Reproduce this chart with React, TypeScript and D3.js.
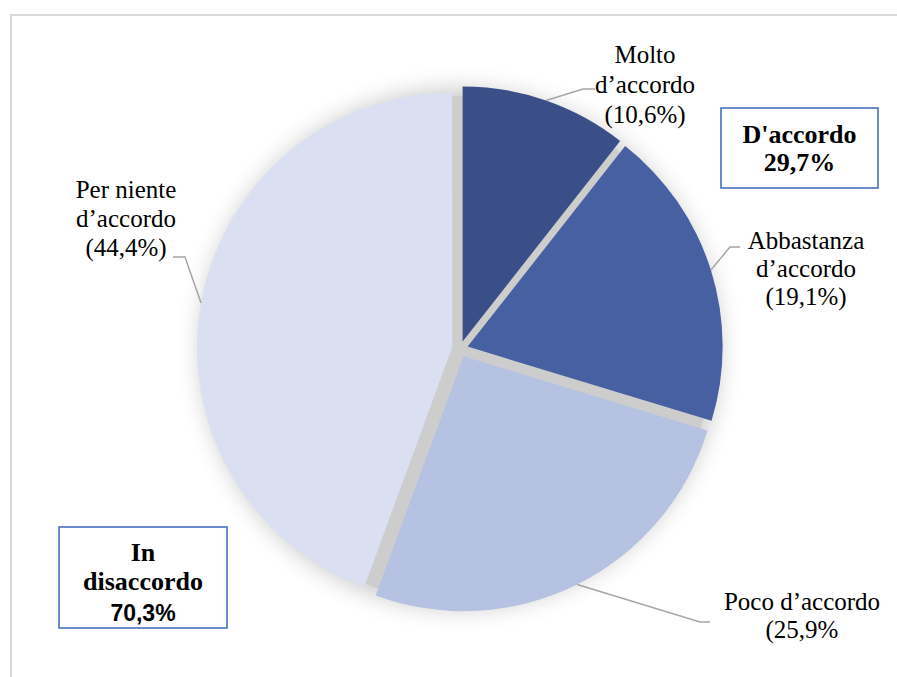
import React from "react";
import * as d3 from "d3";

const categories = ["Molto d’accordo", "Abbastanza d’accordo", "Poco d’accordo", "Per niente d’accordo"];
const values = [10.6, 19.1, 25.9, 44.4];
const colors = ["#3a4f87", "#4660a1", "#b5c2e1", "#dae0f1"];
const labelLines = [
  ["Molto", "d’accordo", "(10,6%)"],
  ["Abbastanza", "d’accordo", "(19,1%)"],
  ["Poco d’accordo", "(25,9%"],
  ["Per niente", "d’accordo", "(44,4%)"],
];
const groupAgree = ["D'accordo", "29,7%"];
const groupDisagree = ["In", "disaccordo", "70,3%"];

const W = 897;
const H = 677;
const cx = 460;
const cy = 349;
const R = 255;
const explode = 8;

// label layout: anchor x, first baseline, line step, elbow point, line end
const labelLayout = [
  { x: 645, y: 63, step: 30, elbow: [583, 89], end: [595, 89] },
  { x: 806, y: 249, step: 28, elbow: [730, 247], end: [740, 247] },
  { x: 802, y: 610, step: 28, elbow: [700, 622], end: [710, 622] },
  { x: 126, y: 198, step: 29, elbow: [185, 257], end: [173, 257] },
];

export default function App() {
  const pie = d3.pie<number>().sort(null).value((d) => d);
  const arcs = pie(values);
  const arc = d3.arc<d3.PieArcDatum<number>>().innerRadius(0).outerRadius(R);

  const serif = "'Liberation Serif', 'Times New Roman', serif";
  const sans = "'Liberation Sans', Arial, sans-serif";

  return (
    <svg width={W} height={H} style={{ position: "absolute", left: 0, top: 0, background: "#fff" }}>
      <defs>
        <filter id="halo" x="-30%" y="-30%" width="160%" height="160%">
          <feGaussianBlur stdDeviation="12" />
        </filter>
      </defs>
      <rect x={0} y={0} width={W} height={H} fill="#fff" />
      {/* frame */}
      <line x1={10} y1={15} x2={W} y2={15} stroke="#d9d9d9" strokeWidth={2} />
      <line x1={11} y1={15} x2={11} y2={H} stroke="#d9d9d9" strokeWidth={2} />

      {/* shadow */}
      <circle cx={cx} cy={cy} r={R + 4} fill="#000" opacity={0.22} filter="url(#halo)" />
      <circle cx={cx} cy={cy} r={R - 2} fill="#cdcdcd" />

      {arcs.map((a, i) => {
        const mid = (a.startAngle + a.endAngle) / 2;
        const dx = Math.sin(mid) * explode;
        const dy = -Math.cos(mid) * explode;
        return (
          <g key={categories[i]} transform={`translate(${cx + dx},${cy + dy})`}>
            <path d={arc(a) || ""} fill={colors[i]} />
          </g>
        );
      })}

      {/* leader lines */}
      {arcs.map((a, i) => {
        const mid = (a.startAngle + a.endAngle) / 2;
        const ox = cx + Math.sin(mid) * (explode + R);
        const oy = cy - Math.cos(mid) * (explode + R);
        const L = labelLayout[i];
        return (
          <polyline
            key={"l" + i}
            points={`${ox},${oy} ${L.elbow[0]},${L.elbow[1]} ${L.end[0]},${L.end[1]}`}
            fill="none"
            stroke="#a6a6a6"
            strokeWidth={1.5}
          />
        );
      })}

      {/* labels */}
      {labelLines.map((lines, i) => {
        const L = labelLayout[i];
        return (
          <text key={"t" + i} fontFamily={serif} fontSize={25} fill="#000" textAnchor="middle">
            {lines.map((s, j) => (
              <tspan key={j} x={L.x} y={L.y + j * L.step}>
                {s}
              </tspan>
            ))}
          </text>
        );
      })}

      {/* D'accordo box */}
      <rect x={721} y={108} width={157} height={80} fill="#fff" stroke="#4a6fc0" strokeWidth={1.6} />
      <text fontFamily={serif} fontSize={26} fontWeight="bold" textAnchor="middle" fill="#000">
        <tspan x={799.5} y={143}>{groupAgree[0]}</tspan>
        <tspan x={799.5} y={171}>{groupAgree[1]}</tspan>
      </text>

      {/* In disaccordo box */}
      <rect x={59} y={527} width={168} height={101} fill="#fff" stroke="#4a6fc0" strokeWidth={1.6} />
      <text fontFamily={serif} fontSize={26} fontWeight="bold" textAnchor="middle" fill="#000">
        <tspan x={143} y={561}>{groupDisagree[0]}</tspan>
        <tspan x={143} y={590}>{groupDisagree[1]}</tspan>
      </text>
      <text fontFamily={sans} fontSize={23} fontWeight="bold" textAnchor="middle" fill="#000" x={143} y={621}>
        {groupDisagree[2]}
      </text>
    </svg>
  );
}
